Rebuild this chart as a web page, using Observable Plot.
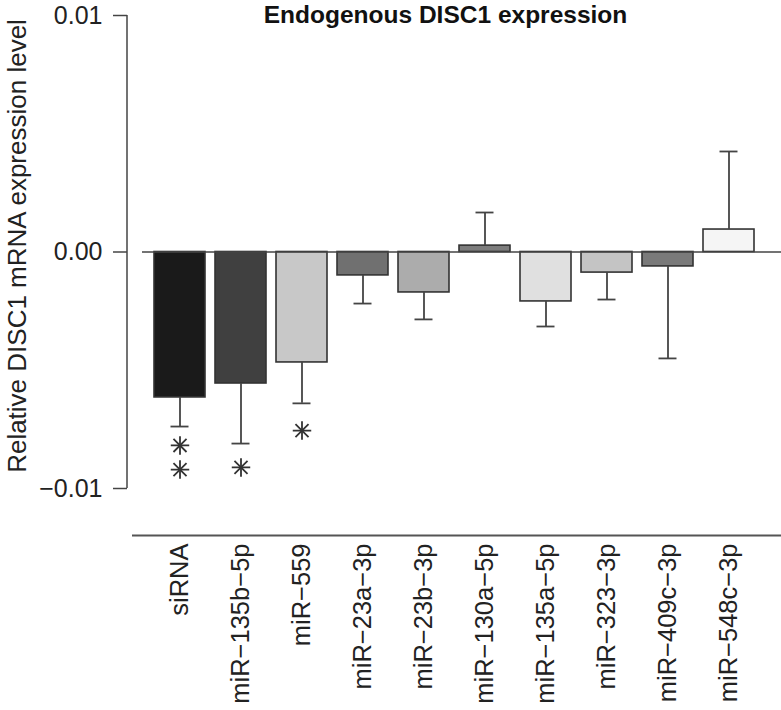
<!DOCTYPE html>
<html>
<head>
<meta charset="utf-8">
<script src="https://cdn.jsdelivr.net/npm/d3@7"></script>
<script src="https://cdn.jsdelivr.net/npm/@observablehq/plot@0.6"></script>
<style>
  html, body { margin: 0; padding: 0; background: #fff; }
  #chart svg { display: block; }
</style>
</head>
<body>
<div id="chart"></div>
<script>
// ---- data ----
const categories = ["siRNA", "miR\u2212135b\u22125p", "miR\u2212559", "miR\u221223a\u22123p", "miR\u221223b\u22123p",
  "miR\u2212130a\u22125p", "miR\u2212135a\u22125p", "miR\u2212323\u22123p", "miR\u2212409c\u22123p", "miR\u2212548c\u22123p"];
const values = [-0.00615, -0.00556, -0.00467, -0.00099, -0.00171, 0.00027, -0.00209, -0.00087, -0.00061, 0.00095];
const errors = [0.00123, 0.00254, 0.00173, 0.00119, 0.00114, 0.00140, 0.00106, 0.00114, 0.00389, 0.00330];
const fills = ["#1a1a1a", "#404040", "#c8c8c8", "#707070", "#acacac", "#7d7d7d", "#e0e0e0", "#c4c4c4", "#7a7a7a", "#f5f5f5"];
const starCategories = ["siRNA", "siRNA", "miR\u2212135b\u22125p", "miR\u2212559"];
const starValues = [-0.00818, -0.0092, -0.00911, -0.00755];
const yTicks = [-0.01, 0, 0.01];
const title = "Endogenous DISC1 expression";
const yLabel = "Relative DISC1 mRNA expression level";

const data = categories.map((c, i) => ({
  label: c, value: values[i], err: errors[i], fill: fills[i],
  end: values[i] + Math.sign(values[i]) * errors[i]
}));
const stars = starCategories.map((c, i) => ({label: c, y: starValues[i]}));

// y-axis line spanning the tick range, drawn with the plot's own y scale
function yAxisLine(index, scales, values, dimensions) {
  const y = scales.y;
  const x = dimensions.marginLeft;
  const line = d3.create("svg:line")
    .attr("x1", x).attr("x2", x)
    .attr("y1", y(d3.min(yTicks))).attr("y2", y(d3.max(yTicks)))
    .attr("stroke", "#444").attr("stroke-width", 1.5);
  return line.node();
}

const ink = "#333";
const plot = Plot.plot({
  width: 781,
  height: 710,
  marginLeft: 127,
  marginRight: 0,
  marginTop: 15,
  marginBottom: 222,
  style: {fontFamily: "'Liberation Sans', Arial, Helvetica, sans-serif", color: "#222", background: "#fff"},
  x: {type: "band", domain: categories, range: [142, 765.5], paddingInner: 0.2 / 1.2, paddingOuter: 0.2 / 1.2, axis: null},
  y: {domain: [-0.01, 0.01], axis: null},
  color: {type: "identity"},
  marks: [
    Plot.axisY({ticks: yTicks, tickFormat: d3.format(".2f"), tickSize: 14, tickPadding: 11,
      fontSize: 25, label: null, stroke: "#444", strokeWidth: 1.5}),
    yAxisLine,
    Plot.text([yLabel], {text: d => d, frameAnchor: "left", textAnchor: "middle", rotate: -90, dx: -110, dy: -6,
      fontSize: 26, fill: "#222"}),
    Plot.text([title], {text: d => d, frameAnchor: "top", lineAnchor: "middle", dx: -9, dy: 0, fontSize: 24.5,
      fontWeight: "bold", fill: "#111"}),
    Plot.axisX({tickSize: 0, tickPadding: 55, tickRotate: -90, fontSize: 25.5, label: null}),
    Plot.ruleY([-0.01], {dy: 47, insetLeft: 5, stroke: "#555", strokeWidth: 2}),
    Plot.barY(data, {x: "label", y: "value", fill: "fill", stroke: ink, strokeWidth: 1.6}),
    Plot.ruleY([0], {insetLeft: 15, stroke: "#444", strokeWidth: 1.6}),
    Plot.ruleX(data, {x: "label", y1: "value", y2: "end", stroke: "#444", strokeWidth: 1.8}),
    Plot.tickY(data, {x: "label", y: "end", insetLeft: 16.5, insetRight: 16.5, stroke: "#444", strokeWidth: 1.8}),
    Plot.dot(stars, {x: "label", y: "y", symbol: "plus", r: 6, stroke: ink, strokeWidth: 1.8}),
    Plot.dot(stars, {x: "label", y: "y", symbol: "times", r: 6, stroke: ink, strokeWidth: 1.8})
  ]
});
document.getElementById("chart").appendChild(plot);
</script>
</body>
</html>
